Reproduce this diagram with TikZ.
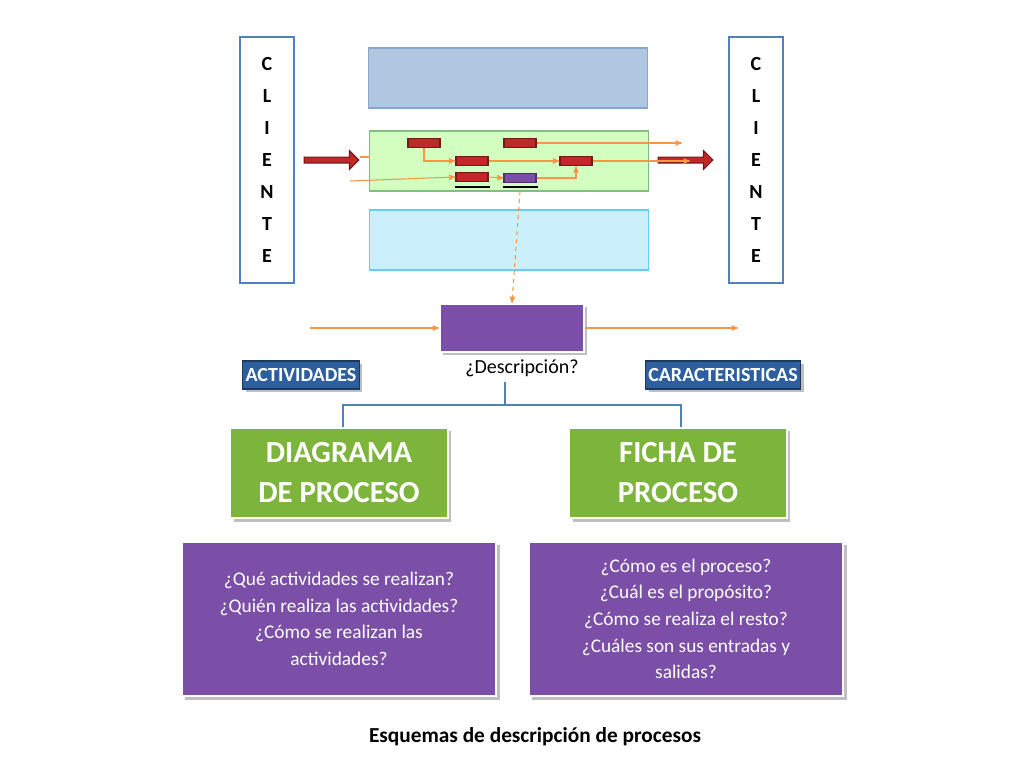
\documentclass[tikz,border=0pt]{standalone}
\usepackage{fontspec}
\setmainfont{Carlito}
\usetikzlibrary{arrows,positioning,shadows,shapes.arrows}
\definecolor{cliblue}{HTML}{4F81BD}
\definecolor{barred}{HTML}{C0282A}
\definecolor{procgreen}{HTML}{7DB53C}
\definecolor{actblue}{HTML}{2D5E9E}
\definecolor{lila}{HTML}{7B4FA8}
\definecolor{flow}{HTML}{F79646}
\begin{document}
\begin{tikzpicture}
[x=0.75pt, y=-0.75pt, line width=0.8pt, >=stealth',
cliente/.style={rectangle, draw=cliblue, line width=1.5pt, fill=white, minimum width=41pt, minimum height=184pt, font=\bfseries\fontsize{15}{24}\selectfont, align=center, inner sep=0pt},
band/.style={rectangle, draw=cliblue!70, minimum width=209pt, minimum height=45pt, inner sep=0pt},
bar/.style={rectangle, draw=barred!60!black, fill=barred, minimum width=24pt, minimum height=7pt, inner sep=0pt},
bigarrow/.style={single arrow, draw=barred!60!black, fill=barred, minimum width=14pt, single arrow head extend=3pt, minimum height=41pt, inner sep=1pt},
flowline/.style={draw=flow, ->},
tag/.style={rectangle, fill=actblue, draw=actblue!60!black, text=white, font=\bfseries\fontsize{15}{18}\selectfont, minimum height=21pt, inner sep=2pt, drop shadow},
tool/.style={rectangle, fill=procgreen, draw=white, line width=1.5pt, text=white, font=\bfseries\fontsize{23}{30}\selectfont, align=center, minimum width=163pt, minimum height=68pt, drop shadow},
question/.style={rectangle, fill=lila, draw=white, line width=1.5pt, text=white, font=\fontsize{14.5}{20}\selectfont, align=center, minimum width=236pt, minimum height=116pt, drop shadow}]
\useasboundingbox (0,0) rectangle (1024,768);

% clientes
\node[cliente] (clientL) at (267,160) {C\\L\\I\\E\\N\\T\\E};
\node[cliente] (clientR) at (756,160) {C\\L\\I\\E\\N\\T\\E};

% bandas
\node[band, fill=cliblue!45] (top) at (508,78) {};
\node[band, fill=green!70!yellow!25, draw=green!50!black!50] (mid) at (509,161) {};
\node[band, fill=cyan!20, draw=cyan!60] (low) at (509,240) {};

\node[bigarrow] (inArrow) at (330,160) {};
\node[bigarrow] (outArrow) at (684,160) {};

% actividades
\node[bar] (a1) at (424,143) {};
\node[bar] (a2) at (520,143) {};
\node[bar] (a3) at (472,161) {};
\node[bar] (a4) at (576,161) {};
\node[bar] (a5) at (472,177) {};
\node[bar, fill=lila, draw=lila!60!black] (a6) at (520,178) {};
\draw[line width=1.5pt] (455,187) -- (490,187) (503,187) -- (538,187);

\coordinate (in1) at (350,181);
\coordinate (stub) at (370,157);
\coordinate (out1) at (682,143);
\coordinate (out2) at (690,161);
\draw[draw=flow] (inArrow.east) ++(0,-3) -- (stub);
\draw[flowline] (a1.south) |- (a3.west);
\draw[flowline] (a2.east) -- (out1);
\draw[flowline] (a3.east) -- (a4.west);
\draw[flowline] (a4.east) -- (out2);
\draw[flowline] (in1) -- (a5.west);
\draw[flowline] (a5.east) -- (a6.west);
\draw[flowline] (a6.east) -| (a4.south);

% proceso
\node[rectangle, fill=lila, draw=white, line width=1.5pt, minimum width=108pt, minimum height=36pt, drop shadow] (proc) at (512,328) {};
\draw[flowline, dashed] (a6.south) ++(0,8) -- (proc.north);
\coordinate (pin) at (310,328);
\coordinate (pout) at (738,328);
\draw[flowline] (pin) -- (proc.west);
\draw[flowline] (proc.east) -- (pout);
\node[font=\fontsize{15}{18}\selectfont] (desc) at (522,368) {¿Descripción?};

\node[tag] (act) at (301,375) {ACTIVIDADES};
\node[tag] (car) at (723,375) {CARACTERISTICAS};

\node[tool] (diag) at (339,473) {DIAGRAMA\\DE PROCESO};
\node[tool] (ficha) at (678,473) {FICHA DE\\PROCESO};
\coordinate (split) at (505,405);
\draw[cliblue] (desc.south -| split) -- (split);
\draw[cliblue] (split) -| (diag.north -| 343,0);
\draw[cliblue] (split) -| (ficha.north -| 681,0);

\node[question] (q1) at (339,619) {¿Qué actividades se realizan?\\¿Quién realiza las actividades?\\¿Cómo se realizan las\\actividades?};
\node[question] (q2) at (686,619) {¿Cómo es el proceso?\\¿Cuál es el propósito?\\¿Cómo se realiza el resto?\\¿Cuáles son sus entradas y\\salidas?};

\node[font=\bfseries\fontsize{16}{20}\selectfont] (caption) at (535,737) {Esquemas de descripción de procesos};
\end{tikzpicture}
\end{document}
